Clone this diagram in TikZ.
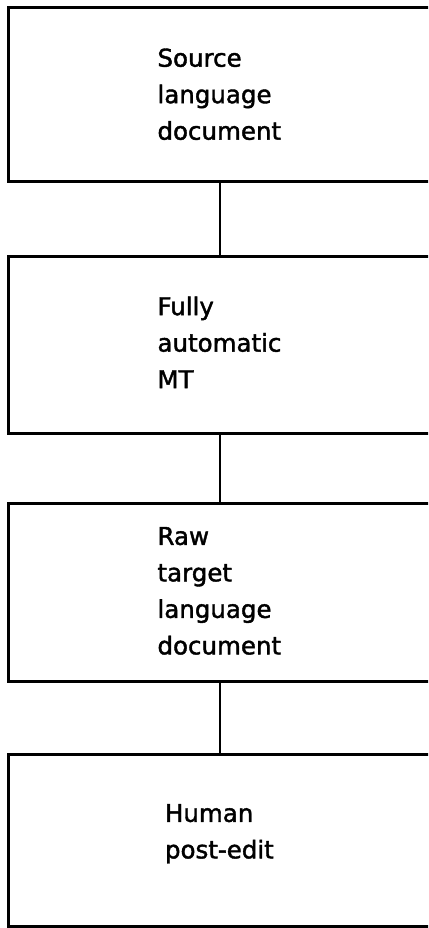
\documentclass[tikz,border=0pt]{standalone}
\usepackage{fontspec}
\setmainfont{DejaVu Sans}[FakeBold=1.6]
\begin{document}
\begin{tikzpicture}[x=1pt,y=-1pt,
  stagebox/.style={draw=black, line width=3pt, inner sep=0pt, outer sep=0pt,
    anchor=north west, minimum width=432pt},
  stagetext/.style={anchor=north west, inner sep=0pt, outer sep=0pt, align=left,
    font=\fontsize{24.5}{36.5}\selectfont},
  link/.style={draw=black, line width=2.6pt}]
\useasboundingbox (0,0) rectangle (428,928);
\clip (0,0) rectangle (428,928);
\fill[white] (0,0) rectangle (428,928);
\node[stagebox, minimum height=174pt] (b1) at (8,8) {};
\node[stagebox, minimum height=177pt] (b2) at (8,256) {};
\node[stagebox, minimum height=178pt] (b3) at (8,503) {};
\node[stagebox, minimum height=172pt] (b4) at (8,754) {};
\coordinate (cx) at (220,0);
\node[stagetext] (t1) at (157.5,48.5) {Source\\language\\document};
\node[stagetext] (t2) at (157.5,296.5) {Fully\\automatic\\MT};
\node[stagetext] (t3) at (157.5,527) {Raw\\target\\language\\document};
\node[stagetext] (t4) at (165,804) {Human\\post-edit};
\draw[link] (b1.south -| cx) -- (b2.north -| cx);
\draw[link] (b2.south -| cx) -- (b3.north -| cx);
\draw[link] (b3.south -| cx) -- (b4.north -| cx);
\end{tikzpicture}
\end{document}
